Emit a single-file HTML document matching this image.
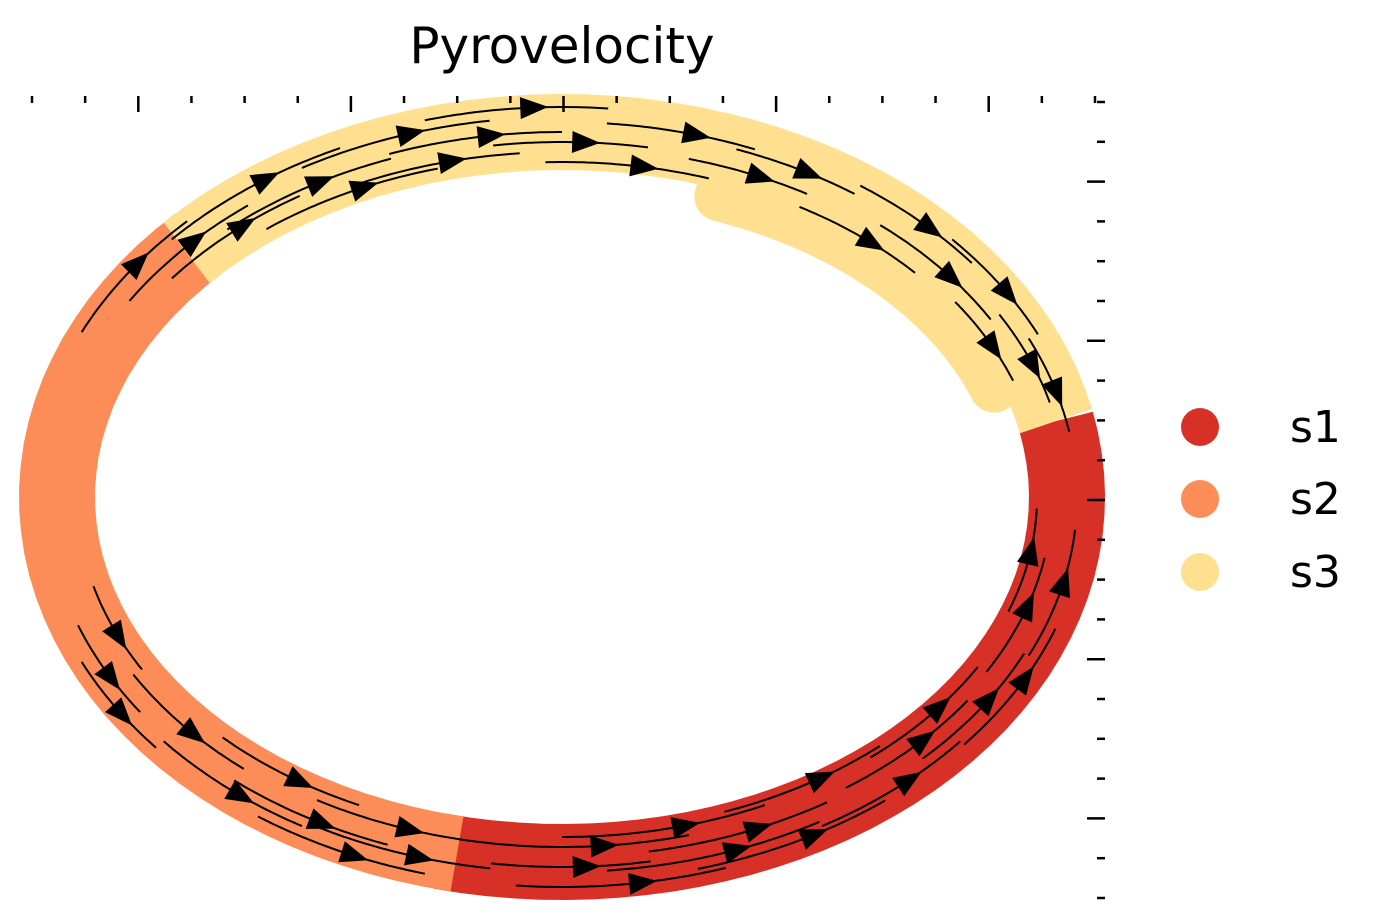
<!DOCTYPE html>
<html><head><meta charset="utf-8"><style>
body{margin:0;background:#fff;}
svg{display:block;font-family:"DejaVu Sans","Liberation Sans",sans-serif;}
</style></head><body>
<svg id="chart" width="1387" height="923" viewBox="0 0 1387 923">
<text x="562" y="63" text-anchor="middle" font-size="50" fill="#000">Pyrovelocity</text>
<g id="ring"></g>
<g id="streams"></g>
<g id="ticks"></g>
<g>
<g><circle cx="1200" cy="427" r="19" fill="#d73027"/><text x="1290" y="442" font-size="44">s1</text></g>
<g><circle cx="1200" cy="499" r="19" fill="#fc8d59"/><text x="1290" y="514" font-size="44">s2</text></g>
<g><circle cx="1200" cy="572" r="19" fill="#fee090"/><text x="1290" y="587" font-size="44">s3</text></g>
</g>
</svg>
<script>
// cluster arcs (angles in degrees, screen coords, clockwise from +x)
const clusterNames=["s1","s2","s3","s3-inner"];
const clusterStart=[-12,102,222,290];
const clusterEnd=[104,224,348,340];
const clusterOffset=[0,0,0,-45];
const clusterWidth=[76,76,76,50];
const clusterColors=["#d73027","#fc8d59","#fee090","#fee090"];
// streamlines: start angle, end angle, radial offset (px)
const streamStart=[205,212,218,222,228,232,240,245,250,255,262,268,275,285,290,300,305,310,318,325,330,335,165,160,155,150,140,135,130,125,120,118,100,98,95,90,85,80,75,70,60,55,50,45,40,30,25,20];
const streamEnd=[225,232,238,245,250,255,262,265,270,275,280,288,292,300,305,318,322,330,335,340,345,350,150,145,140,130,120,115,110,105,100,98,75,80,72,65,60,58,52,48,40,35,30,25,20,10,5,2];
const streamOff=[25,5,-10,20,-5,-25,15,-20,0,25,-10,-30,10,-15,5,-30,15,-10,20,-25,0,10,-20,10,25,-10,15,-25,5,25,-15,10,-15,5,25,-25,10,-5,20,-30,15,-10,-25,5,20,-15,10,-30];

const NS="http://www.w3.org/2000/svg";
const cx=562,cy=497,rx=505,ry=365;
function pt(a,off){const t=a*Math.PI/180;return [cx+(rx+off)*Math.cos(t),cy+(ry+off)*Math.sin(t)];}
function arcPath(a0,a1,off){let d="";const n=40;for(let i=0;i<=n;i++){const a=a0+(a1-a0)*i/n;const p=pt(a,off);d+=(i?"L":"M")+p[0].toFixed(1)+" "+p[1].toFixed(1);}return d;}
const ring=document.getElementById("ring");
for(let i=0;i<clusterNames.length;i++){
  const p=document.createElementNS(NS,"path");
  p.setAttribute("d",arcPath(clusterStart[i],clusterEnd[i],clusterOffset[i]));
  p.setAttribute("fill","none");p.setAttribute("stroke",clusterColors[i]);
  p.setAttribute("stroke-width",clusterWidth[i]);p.setAttribute("stroke-linecap",i===3?"round":"butt");
  
  
  ring.appendChild(p);
}
const st=document.getElementById("streams");
for(let i=0;i<streamStart.length;i++){
  const a0=streamStart[i],a1=streamEnd[i],o=streamOff[i];
  const p=document.createElementNS(NS,"path");
  p.setAttribute("d",arcPath(a0,a1,o));
  p.setAttribute("fill","none");p.setAttribute("stroke","#000");p.setAttribute("stroke-width","2");
  
  
  st.appendChild(p);
  const mA=a0+(a1-a0)*0.6;
  const m=pt(mA,o),b=pt(mA-(a1-a0)*0.03,o);
  const ang=Math.atan2(m[1]-b[1],m[0]-b[0])*180/Math.PI;
  const h=document.createElementNS(NS,"polygon");
  h.setAttribute("points","14,0 -14,-11 -14,11");
  h.setAttribute("transform","translate("+m[0].toFixed(1)+","+m[1].toFixed(1)+") rotate("+ang.toFixed(1)+")");
  h.setAttribute("fill","#000");
  
  
  st.appendChild(h);
}
const tk=document.getElementById("ticks");
function line(x1,y1,x2,y2,name){const l=document.createElementNS(NS,"line");l.setAttribute("x1",x1);l.setAttribute("y1",y1);l.setAttribute("x2",x2);l.setAttribute("y2",y2);l.setAttribute("stroke","#000");l.setAttribute("stroke-width","2.5");
  
  
  tk.appendChild(l);}
for(let i=0;i<21;i++){const x=32+i*53.15;const major=(i%4===2);line(x,96,x,major?112:103,'x-tick');}
for(let i=0;i<21;i++){const y=102+i*39.8;const major=(i%4===2);line(major?1087:1097,y,1105,y,'y-tick');}
</script>
</body></html>
